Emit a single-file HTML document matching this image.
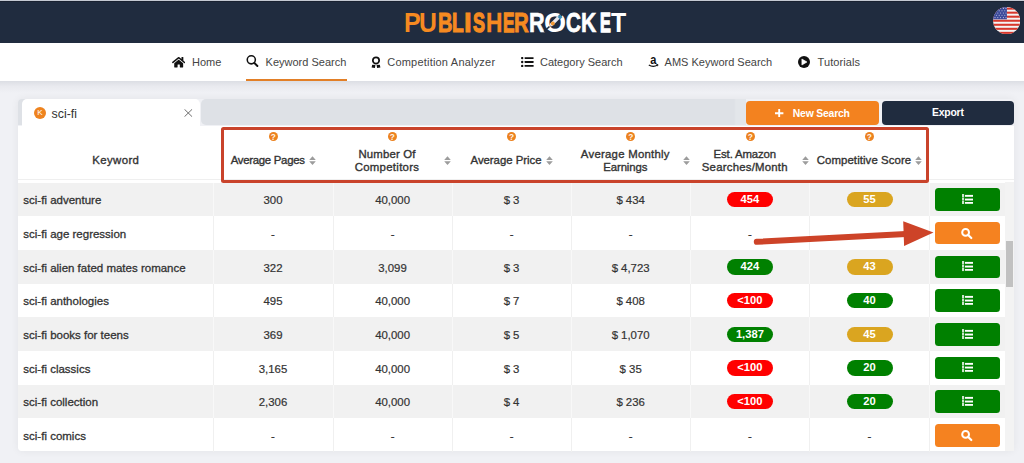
<!DOCTYPE html>
<html><head><meta charset="utf-8">
<style>
*{box-sizing:border-box;margin:0;padding:0}
html,body{width:1024px;height:463px;overflow:hidden}
body{position:relative;background:#f0f1f5;font-family:"Liberation Sans",sans-serif;color:#333}
.a{position:absolute}
#topstrip{left:0;top:0;width:1024px;height:1px;background:#c4c9d2}
#hdr{left:0;top:1px;width:1024px;height:41.5px;background:#202c3f;border-top:1px solid #1a2231}
#logo span{position:absolute;top:6.4px;font-weight:bold;font-size:27.6px;line-height:1.2;white-space:nowrap;transform-origin:0 0}
#nav{left:0;top:42.5px;width:1024px;height:38.8px;background:#fff}
#navsh{left:0;top:81.3px;width:1024px;height:12px;background:linear-gradient(#dcdee4,#e9eaef 45%,#f0f1f5)}
.nt{font-size:11px;color:#444;white-space:nowrap;top:56px;line-height:13px}
#uline{left:246.3px;top:78.6px;width:100.3px;height:2.6px;background:#e27f27}
#card{left:18px;top:99.4px;width:996px;height:352px;border-radius:4px;box-shadow:0 0 8px rgba(0,0,0,.06)}
#tabbar{left:18px;top:99.4px;width:12px;height:26px;background:#dee1e6;border-radius:4px 0 0 0}
#tabbar2{left:200.6px;top:99.4px;width:545.4px;height:25.9px;background:linear-gradient(90deg,#dee1e6 0,#dee1e6 533px,#e3e6ea 535px,#e3e6ea 545.4px);border-radius:5px 0 0 5px}
#tab{left:22px;top:99.4px;width:178.3px;height:26.2px;background:#fff;border-radius:5px 5px 0 0}
#white{left:18px;top:125.5px;width:996px;height:325.9px;background:#fff;border-radius:0 0 4px 4px}
#hline{left:18px;top:178.7px;width:996px;height:1.1px;background:#efefef}
.btn{border-radius:4px;color:#fff;font-weight:bold;font-size:10.5px;text-align:center;line-height:23.5px}
.row{left:18px;width:987px;height:33.68px}
.g{background:#f1f1f1}
.sep{position:absolute;top:0;width:1px;height:100%;background:#f0f0f0}
.g .sep{background:#f8f8f8}
.kw{position:absolute;left:5.3px;top:0;line-height:33.68px;padding-top:1.7px;font-size:11.5px;color:#333;white-space:nowrap;-webkit-text-stroke:0.3px #333}
.val{position:absolute;top:0;width:120px;text-align:center;line-height:33.68px;padding-top:1.7px;font-size:11.4px;color:#333;white-space:nowrap;-webkit-text-stroke:0.2px #333}
.pill{position:absolute;top:9.4px;width:46px;height:15.4px;border-radius:8px;color:#fff;font-weight:bold;font-size:11.2px;line-height:15.6px;text-align:center}
.act{position:absolute;left:916.5px;top:5.9px;width:65.8px;height:22.4px;border-radius:3.5px}
.th{position:absolute;font-weight:normal;font-size:11.4px;-webkit-text-stroke:0.35px #333;color:#333;white-space:nowrap;line-height:13.6px;text-align:center;width:140px}
.q{position:absolute;top:132.1px;width:9px;height:9px;border-radius:50%;background:#ec821f;color:#fff5ea;font-weight:bold;font-size:8.3px;line-height:11px;text-align:center}
.so{position:absolute;width:7px;height:9.2px}
</style></head><body>
<div class="a" id="topstrip"></div>
<div class="a" id="hdr"></div>
<div id="logo"><span style="left:403.55px;transform:scaleX(0.906);-webkit-text-stroke:0.00px #f58a21;color:#f58a21">P</span><span style="left:419.43px;transform:scaleX(0.898);-webkit-text-stroke:0.03px #f58a21;color:#f58a21">U</span><span style="left:437.65px;transform:scaleX(0.725);-webkit-text-stroke:0.97px #f58a21;color:#f58a21">B</span><span style="left:452.36px;transform:scaleX(0.695);-webkit-text-stroke:1.17px #f58a21;color:#f58a21">L</span><span style="left:464.09px;transform:scaleX(1.000);-webkit-text-stroke:0.84px #f58a21;color:#f58a21">I</span><span style="left:472.62px;transform:scaleX(0.651);-webkit-text-stroke:1.40px #f58a21;color:#f58a21">S</span><span style="left:485.87px;transform:scaleX(0.823);-webkit-text-stroke:0.39px #f58a21;color:#f58a21">H</span><span style="left:503.03px;transform:scaleX(0.623);-webkit-text-stroke:1.40px #f58a21;color:#f58a21">E</span><span style="left:513.59px;transform:scaleX(0.739);-webkit-text-stroke:0.87px #f58a21;color:#f58a21">R</span><span style="left:528.62px;transform:scaleX(0.784);-webkit-text-stroke:0.60px #fff;color:#fff">R</span><span style="left:544.06px;transform:scaleX(1.030);-webkit-text-stroke:0.00px #fff;color:#fff">O</span><span style="left:565.79px;transform:scaleX(0.746);-webkit-text-stroke:0.83px #fff;color:#fff">C</span><span style="left:581.48px;transform:scaleX(0.768);-webkit-text-stroke:0.69px #fff;color:#fff">K</span><span style="left:599.58px;transform:scaleX(0.587);-webkit-text-stroke:1.40px #fff;color:#fff">E</span><span style="left:610.56px;transform:scaleX(0.902);-webkit-text-stroke:0.02px #fff;color:#fff">T</span></div>
<svg class="a" style="left:540px;top:8px" width="30" height="28" viewBox="0 0 30 28">
<path d="M17.5 10.5 L26 2" stroke="#202c3f" stroke-width="2.6"/>
<path d="M4 23.5 L9.5 18.5" stroke="#202c3f" stroke-width="1.6"/>
<path d="M11.5 16.5 L18.5 9.5" stroke="#e8e8ee" stroke-width="3.2" stroke-linecap="round"/>
<rect x="18.4" y="7.3" width="3.4" height="3.4" fill="#3a8fb8" transform="rotate(45 20.1 9)"/>
<circle cx="12.8" cy="15.6" r="2" fill="#f39a35"/>
</svg>
<!-- flag -->
<svg class="a" style="left:993px;top:7.1px" width="27.4" height="27.4" viewBox="0 0 27.4 27.4">
  <defs><clipPath id="fc"><circle cx="13.7" cy="13.7" r="13.6"/></clipPath></defs>
  <g clip-path="url(#fc)">
    <rect width="28" height="28" fill="#f4f4f4"/>
    <rect y="0.60" width="28" height="2.05" fill="#d8372c"/><rect y="4.64" width="28" height="2.05" fill="#d8372c"/><rect y="8.68" width="28" height="2.05" fill="#d8372c"/><rect y="12.72" width="28" height="2.05" fill="#d8372c"/><rect y="16.76" width="28" height="2.05" fill="#d8372c"/><rect y="20.80" width="28" height="2.05" fill="#d8372c"/><rect y="24.84" width="28" height="2.05" fill="#d8372c"/>
    <rect width="13.9" height="12.3" fill="#3d4c9c"/>
    <g fill="#fff" opacity=".7"><circle cx="2.0" cy="1.40" r=".55"/><circle cx="4.8" cy="1.40" r=".55"/><circle cx="7.6" cy="1.40" r=".55"/><circle cx="10.4" cy="1.40" r=".55"/><circle cx="13.0" cy="1.40" r=".55"/><circle cx="3.4" cy="3.70" r=".55"/><circle cx="6.2" cy="3.70" r=".55"/><circle cx="9.0" cy="3.70" r=".55"/><circle cx="11.8" cy="3.70" r=".55"/><circle cx="2.0" cy="6.00" r=".55"/><circle cx="4.8" cy="6.00" r=".55"/><circle cx="7.6" cy="6.00" r=".55"/><circle cx="10.4" cy="6.00" r=".55"/><circle cx="13.0" cy="6.00" r=".55"/><circle cx="3.4" cy="8.30" r=".55"/><circle cx="6.2" cy="8.30" r=".55"/><circle cx="9.0" cy="8.30" r=".55"/><circle cx="11.8" cy="8.30" r=".55"/><circle cx="2.0" cy="10.60" r=".55"/><circle cx="4.8" cy="10.60" r=".55"/><circle cx="7.6" cy="10.60" r=".55"/><circle cx="10.4" cy="10.60" r=".55"/><circle cx="13.0" cy="10.60" r=".55"/></g>
  </g>
</svg>
<div class="a" id="nav"></div>
<div class="a" id="navsh"></div>
<div class="a" id="uline"></div>

<!-- nav icons -->
<svg class="a" style="left:171.8px;top:56.9px" width="13.4" height="11.2" viewBox="0 0 576 480"><path fill="#111" d="M280.37 116.26L96 268.11V432a16 16 0 0 0 16 16l112.06-.29a16 16 0 0 0 15.92-16V336a16 16 0 0 1 16-16h64a16 16 0 0 1 16 16v95.64a16 16 0 0 0 16 16.05L464 448a16 16 0 0 0 16-16V268L295.67 116.26a12.19 12.19 0 0 0-15.3 0zM571.6 219.47L488 150.56V12.05a12 12 0 0 0-12-12h-56a12 12 0 0 0-12 12v72.61L318.47 11a48 48 0 0 0-61 0L4.34 219.47a12 12 0 0 0-1.6 16.9l25.5 31A12 12 0 0 0 45.15 269l235.22-193.74a12.19 12.19 0 0 1 15.3 0L530.9 269a12 12 0 0 0 16.9-1.6l25.5-31a12 12 0 0 0-1.7-16.93z"/></svg>
<div class="a nt" style="left:192px">Home</div>

<svg class="a" style="left:244px;top:52px" width="16" height="17" viewBox="0 0 16 17"><circle cx="7.3" cy="7.8" r="4.05" fill="none" stroke="#111" stroke-width="1.55"/><path d="M10.4 11 L13.4 14" stroke="#111" stroke-width="1.9" stroke-linecap="round"/></svg>
<div class="a nt" style="left:265.6px">Keyword Search</div>

<svg class="a" style="left:371px;top:55.5px" width="11" height="12.5" viewBox="0 0 11 12.5"><circle cx="5" cy="4.4" r="3.15" fill="none" stroke="#111" stroke-width="1.75"/><path d="M1.2 8.8 L4.4 9 L3.9 12 L0.6 11.6 Z M8.8 8.8 L5.6 9 L6.1 12 L9.4 11.6 Z" fill="#111"/></svg>
<div class="a nt" style="left:387.3px;letter-spacing:.2px">Competition Analyzer</div>

<svg class="a" style="left:521.2px;top:57.4px" width="12.6" height="10" viewBox="0 0 12.6 10"><g fill="#111"><circle cx="1.2" cy="1.1" r="1.2"/><circle cx="1.2" cy="5" r="1.2"/><circle cx="1.2" cy="8.9" r="1.2"/><rect x="3.6" y="0.2" width="9" height="1.8" rx=".4"/><rect x="3.6" y="4.1" width="9" height="1.8" rx=".4"/><rect x="3.6" y="8" width="9" height="1.8" rx=".4"/></g></svg>
<div class="a nt" style="left:540px">Category Search</div>

<svg class="a" style="left:647.5px;top:55px" width="11" height="13" viewBox="0 0 11 13"><text y="8.7" transform="translate(5.3 0) scale(0.82 1) translate(-5.3 0)" x="5.3" text-anchor="middle" font-family="Liberation Sans" font-weight="bold" font-size="13.5" fill="#111">a</text><path d="M0.8 9.9 Q5 12.6 9.6 10" fill="none" stroke="#111" stroke-width="1.2"/><path d="M8.3 9.3 L10 9.7 L9.5 11.2" fill="none" stroke="#111" stroke-width=".9"/></svg>
<div class="a nt" style="left:664.6px">AMS Keyword Search</div>

<svg class="a" style="left:797.8px;top:56px" width="12" height="12" viewBox="0 0 12 12"><circle cx="6" cy="6" r="6" fill="#111"/><path d="M3.9 3 L9 6 L3.9 9 Z" fill="#fff" stroke="#fff" stroke-width=".6" stroke-linejoin="round"/></svg>
<div class="a nt" style="left:817.5px;letter-spacing:.1px">Tutorials</div>

<div class="a" id="card"></div>
<div class="a" id="tabbar"></div>
<div class="a" id="tabbar2"></div>
<div class="a" id="tab"></div>
<div class="a" id="white"></div>
<div class="a" id="hline"></div>

<!-- tab contents -->
<div class="a" style="left:34px;top:107.1px;width:12px;height:12px;border-radius:50%;background:#ee831f;color:#fff;font-size:8px;line-height:12px;text-align:center">K</div>
<div class="a" style="left:51.5px;top:107.2px;font-size:12.4px;line-height:14px;color:#333">sci-&#xFB01;</div>
<svg class="a" style="left:184px;top:108.5px" width="8.6" height="8" viewBox="0 0 8.6 8"><path d="M0.5 0.3 L8.1 7.7 M8.1 0.3 L0.5 7.7" stroke="#555" stroke-width="0.85"/></svg>

<div class="a btn" style="left:746px;top:101px;width:132.8px;height:23.5px;background:#f3821f"></div>
<svg class="a" style="left:775.4px;top:108.7px" width="8.4" height="8.6" viewBox="0 0 8.4 8.6"><path d="M4.2 0 V8.6 M0 4.3 H8.4" stroke="#fff" stroke-width="1.9"/></svg>
<div class="a" style="left:792.8px;top:107.8px;font-weight:bold;font-size:10.4px;line-height:12px;color:#fff;letter-spacing:-.2px;white-space:nowrap">New Search</div>
<div class="a btn" style="left:881.8px;top:101px;width:132.4px;height:23.5px;background:#202c3f"></div>
<div class="a" style="left:932px;top:107.2px;font-weight:bold;font-size:10.4px;line-height:12px;color:#fff;letter-spacing:-.2px;white-space:nowrap">Export</div>

<!-- table header -->
<div class="th" style="left:45.8px;top:153.5px;letter-spacing:.38px">Keyword</div>
<div class="th" style="left:197.7px;top:153.5px;letter-spacing:-.28px">Average Pages</div>
<div class="th" style="left:317px;top:147.5px"><span style="letter-spacing:.16px">Number Of</span><br><span style="letter-spacing:.3px">Competitors</span></div>
<div class="th" style="left:436px;top:153.5px;letter-spacing:-.03px">Average Price</div>
<div class="th" style="left:555.3px;top:147.5px"><span style="letter-spacing:.24px">Average Monthly</span><br><span style="letter-spacing:-.11px">Earnings</span></div>
<div class="th" style="left:674.8px;top:147.5px"><span style="letter-spacing:-.14px">Est. Amazon</span><br><span style="letter-spacing:.22px">Searches/Month</span></div>
<div class="th" style="left:794px;top:153.5px;letter-spacing:.09px">Competitive Score</div>

<div class="q" style="left:268.7px">?</div>
<div class="q" style="left:387.8px">?</div>
<div class="q" style="left:507px">?</div>
<div class="q" style="left:626.4px">?</div>
<div class="q" style="left:745.8px">?</div>
<div class="q" style="left:864.8px">?</div>

<svg class="so" style="left:309px;top:155.8px" viewBox="0 0 7 9.2"><path d="M3.5 0.2 L6.8 4 L0.2 4 Z M3.5 9 L6.8 5.2 L0.2 5.2 Z" fill="#9c9c9c"/></svg>
<svg class="so" style="left:444.2px;top:155.7px" viewBox="0 0 7 9.2"><path d="M3.5 0.2 L6.8 4 L0.2 4 Z M3.5 9 L6.8 5.2 L0.2 5.2 Z" fill="#9c9c9c"/></svg>
<svg class="so" style="left:545.7px;top:155.8px" viewBox="0 0 7 9.2"><path d="M3.5 0.2 L6.8 4 L0.2 4 Z M3.5 9 L6.8 5.2 L0.2 5.2 Z" fill="#9c9c9c"/></svg>
<svg class="so" style="left:682.8px;top:155.7px" viewBox="0 0 7 9.2"><path d="M3.5 0.2 L6.8 4 L0.2 4 Z M3.5 9 L6.8 5.2 L0.2 5.2 Z" fill="#9c9c9c"/></svg>
<svg class="so" style="left:802.1px;top:155.7px" viewBox="0 0 7 9.2"><path d="M3.5 0.2 L6.8 4 L0.2 4 Z M3.5 9 L6.8 5.2 L0.2 5.2 Z" fill="#9c9c9c"/></svg>
<svg class="so" style="left:915.3px;top:155.8px" viewBox="0 0 7 9.2"><path d="M3.5 0.2 L6.8 4 L0.2 4 Z M3.5 9 L6.8 5.2 L0.2 5.2 Z" fill="#9c9c9c"/></svg>

<!-- rows -->
<div class="a" style="left:0;top:182.5px;width:1005px;height:269px;overflow:hidden"><div class="a row g" style="top:0.00px"><div class="sep" style="left:194.50px"></div><div class="sep" style="left:314.50px"></div><div class="sep" style="left:433.60px"></div><div class="sep" style="left:552.50px"></div><div class="sep" style="left:671.80px"></div><div class="sep" style="left:791.00px"></div><div class="sep" style="left:911.00px"></div><div class="kw">sci-ﬁ adventure</div><div class="val" style="left:195.00px">300</div><div class="val" style="left:314.55px">40,000</div><div class="val" style="left:433.55px">$ 3</div><div class="val" style="left:552.65px">$ 434</div><div class="pill" style="left:708.90px;background:#ff0000">454</div><div class="pill" style="left:828.50px;background:#daa520">55</div><div class="act" style="background:#008000"><svg width="11.5" height="10.2" viewBox="0 0 11.5 10.2" style="position:absolute;left:27.3px;top:5.7px"><g fill="#fff"><rect x="2.95" y="0.9" width="8.35" height="1.9"/><rect x="2.95" y="4.6" width="8.35" height="1.9"/><rect x="2.95" y="8" width="8.35" height="1.8"/><g opacity=".8"><rect x="0" y="0" width="2.1" height="3.1"/><rect x="0" y="3.5" width="2.1" height="3.1"/><rect x="0" y="7" width="2.1" height="3.1"/></g></g></svg></div></div>
<div class="a row" style="top:33.68px"><div class="sep" style="left:194.50px"></div><div class="sep" style="left:314.50px"></div><div class="sep" style="left:433.60px"></div><div class="sep" style="left:552.50px"></div><div class="sep" style="left:671.80px"></div><div class="sep" style="left:791.00px"></div><div class="sep" style="left:911.00px"></div><div class="kw">sci-ﬁ age regression</div><div class="val" style="left:195.00px">-</div><div class="val" style="left:314.55px">-</div><div class="val" style="left:433.55px">-</div><div class="val" style="left:552.65px">-</div><div class="val" style="left:671.90px">-</div><div class="val" style="left:791.50px">-</div><div class="act" style="background:#f58220"><svg width="13" height="12" viewBox="0 0 13 12" style="position:absolute;left:26.8px;top:6.05px"><circle cx="4.6" cy="4.4" r="3.4" fill="none" stroke="#fff" stroke-width="2"/><path d="M7.2 7 L10.3 10" stroke="#fff" stroke-width="2.2" stroke-linecap="round"/></svg></div></div>
<div class="a row g" style="top:67.36px"><div class="sep" style="left:194.50px"></div><div class="sep" style="left:314.50px"></div><div class="sep" style="left:433.60px"></div><div class="sep" style="left:552.50px"></div><div class="sep" style="left:671.80px"></div><div class="sep" style="left:791.00px"></div><div class="sep" style="left:911.00px"></div><div class="kw">sci-ﬁ alien fated mates romance</div><div class="val" style="left:195.00px">322</div><div class="val" style="left:314.55px">3,099</div><div class="val" style="left:433.55px">$ 3</div><div class="val" style="left:552.65px">$ 4,723</div><div class="pill" style="left:708.90px;background:#008000">424</div><div class="pill" style="left:828.50px;background:#daa520">43</div><div class="act" style="background:#008000"><svg width="11.5" height="10.2" viewBox="0 0 11.5 10.2" style="position:absolute;left:27.3px;top:5.7px"><g fill="#fff"><rect x="2.95" y="0.9" width="8.35" height="1.9"/><rect x="2.95" y="4.6" width="8.35" height="1.9"/><rect x="2.95" y="8" width="8.35" height="1.8"/><g opacity=".8"><rect x="0" y="0" width="2.1" height="3.1"/><rect x="0" y="3.5" width="2.1" height="3.1"/><rect x="0" y="7" width="2.1" height="3.1"/></g></g></svg></div></div>
<div class="a row" style="top:101.04px"><div class="sep" style="left:194.50px"></div><div class="sep" style="left:314.50px"></div><div class="sep" style="left:433.60px"></div><div class="sep" style="left:552.50px"></div><div class="sep" style="left:671.80px"></div><div class="sep" style="left:791.00px"></div><div class="sep" style="left:911.00px"></div><div class="kw">sci-ﬁ anthologies</div><div class="val" style="left:195.00px">495</div><div class="val" style="left:314.55px">40,000</div><div class="val" style="left:433.55px">$ 7</div><div class="val" style="left:552.65px">$ 408</div><div class="pill" style="left:708.90px;background:#ff0000">&lt;100</div><div class="pill" style="left:828.50px;background:#008000">40</div><div class="act" style="background:#008000"><svg width="11.5" height="10.2" viewBox="0 0 11.5 10.2" style="position:absolute;left:27.3px;top:5.7px"><g fill="#fff"><rect x="2.95" y="0.9" width="8.35" height="1.9"/><rect x="2.95" y="4.6" width="8.35" height="1.9"/><rect x="2.95" y="8" width="8.35" height="1.8"/><g opacity=".8"><rect x="0" y="0" width="2.1" height="3.1"/><rect x="0" y="3.5" width="2.1" height="3.1"/><rect x="0" y="7" width="2.1" height="3.1"/></g></g></svg></div></div>
<div class="a row g" style="top:134.72px"><div class="sep" style="left:194.50px"></div><div class="sep" style="left:314.50px"></div><div class="sep" style="left:433.60px"></div><div class="sep" style="left:552.50px"></div><div class="sep" style="left:671.80px"></div><div class="sep" style="left:791.00px"></div><div class="sep" style="left:911.00px"></div><div class="kw">sci-ﬁ books for teens</div><div class="val" style="left:195.00px">369</div><div class="val" style="left:314.55px">40,000</div><div class="val" style="left:433.55px">$ 5</div><div class="val" style="left:552.65px">$ 1,070</div><div class="pill" style="left:708.90px;background:#008000">1,387</div><div class="pill" style="left:828.50px;background:#daa520">45</div><div class="act" style="background:#008000"><svg width="11.5" height="10.2" viewBox="0 0 11.5 10.2" style="position:absolute;left:27.3px;top:5.7px"><g fill="#fff"><rect x="2.95" y="0.9" width="8.35" height="1.9"/><rect x="2.95" y="4.6" width="8.35" height="1.9"/><rect x="2.95" y="8" width="8.35" height="1.8"/><g opacity=".8"><rect x="0" y="0" width="2.1" height="3.1"/><rect x="0" y="3.5" width="2.1" height="3.1"/><rect x="0" y="7" width="2.1" height="3.1"/></g></g></svg></div></div>
<div class="a row" style="top:168.40px"><div class="sep" style="left:194.50px"></div><div class="sep" style="left:314.50px"></div><div class="sep" style="left:433.60px"></div><div class="sep" style="left:552.50px"></div><div class="sep" style="left:671.80px"></div><div class="sep" style="left:791.00px"></div><div class="sep" style="left:911.00px"></div><div class="kw">sci-ﬁ classics</div><div class="val" style="left:195.00px">3,165</div><div class="val" style="left:314.55px">40,000</div><div class="val" style="left:433.55px">$ 3</div><div class="val" style="left:552.65px">$ 35</div><div class="pill" style="left:708.90px;background:#ff0000">&lt;100</div><div class="pill" style="left:828.50px;background:#008000">20</div><div class="act" style="background:#008000"><svg width="11.5" height="10.2" viewBox="0 0 11.5 10.2" style="position:absolute;left:27.3px;top:5.7px"><g fill="#fff"><rect x="2.95" y="0.9" width="8.35" height="1.9"/><rect x="2.95" y="4.6" width="8.35" height="1.9"/><rect x="2.95" y="8" width="8.35" height="1.8"/><g opacity=".8"><rect x="0" y="0" width="2.1" height="3.1"/><rect x="0" y="3.5" width="2.1" height="3.1"/><rect x="0" y="7" width="2.1" height="3.1"/></g></g></svg></div></div>
<div class="a row g" style="top:202.08px"><div class="sep" style="left:194.50px"></div><div class="sep" style="left:314.50px"></div><div class="sep" style="left:433.60px"></div><div class="sep" style="left:552.50px"></div><div class="sep" style="left:671.80px"></div><div class="sep" style="left:791.00px"></div><div class="sep" style="left:911.00px"></div><div class="kw">sci-ﬁ collection</div><div class="val" style="left:195.00px">2,306</div><div class="val" style="left:314.55px">40,000</div><div class="val" style="left:433.55px">$ 4</div><div class="val" style="left:552.65px">$ 236</div><div class="pill" style="left:708.90px;background:#ff0000">&lt;100</div><div class="pill" style="left:828.50px;background:#008000">20</div><div class="act" style="background:#008000"><svg width="11.5" height="10.2" viewBox="0 0 11.5 10.2" style="position:absolute;left:27.3px;top:5.7px"><g fill="#fff"><rect x="2.95" y="0.9" width="8.35" height="1.9"/><rect x="2.95" y="4.6" width="8.35" height="1.9"/><rect x="2.95" y="8" width="8.35" height="1.8"/><g opacity=".8"><rect x="0" y="0" width="2.1" height="3.1"/><rect x="0" y="3.5" width="2.1" height="3.1"/><rect x="0" y="7" width="2.1" height="3.1"/></g></g></svg></div></div>
<div class="a row" style="top:235.76px"><div class="sep" style="left:194.50px"></div><div class="sep" style="left:314.50px"></div><div class="sep" style="left:433.60px"></div><div class="sep" style="left:552.50px"></div><div class="sep" style="left:671.80px"></div><div class="sep" style="left:791.00px"></div><div class="sep" style="left:911.00px"></div><div class="kw">sci-ﬁ comics</div><div class="val" style="left:195.00px">-</div><div class="val" style="left:314.55px">-</div><div class="val" style="left:433.55px">-</div><div class="val" style="left:552.65px">-</div><div class="val" style="left:671.90px">-</div><div class="val" style="left:791.50px">-</div><div class="act" style="background:#f58220"><svg width="13" height="12" viewBox="0 0 13 12" style="position:absolute;left:26.8px;top:6.05px"><circle cx="4.6" cy="4.4" r="3.4" fill="none" stroke="#fff" stroke-width="2"/><path d="M7.2 7 L10.3 10" stroke="#fff" stroke-width="2.2" stroke-linecap="round"/></svg></div></div></div>

<!-- scrollbar -->
<div class="a" style="left:1005px;top:182.2px;width:8.6px;height:269px;background:#f3f3f3"></div>
<div class="a" style="left:1005.5px;top:241px;width:7.8px;height:46px;background:#c1c1c1"></div>

<!-- red box -->
<div class="a" style="left:220.5px;top:127.2px;width:708.5px;height:55.4px;border:3px solid #c9432b;border-radius:2.5px"></div>

<!-- arrow -->
<svg class="a" style="left:0;top:0" width="1024" height="463">
  <path d="M756.8 241.8 L906 234" stroke="#cd4328" stroke-width="6" stroke-linecap="round" fill="none"/>
  <path d="M903.2 221.2 L904.1 246 L933.5 232.6 Z" fill="#cd4328"/>
</svg>
</body></html>
